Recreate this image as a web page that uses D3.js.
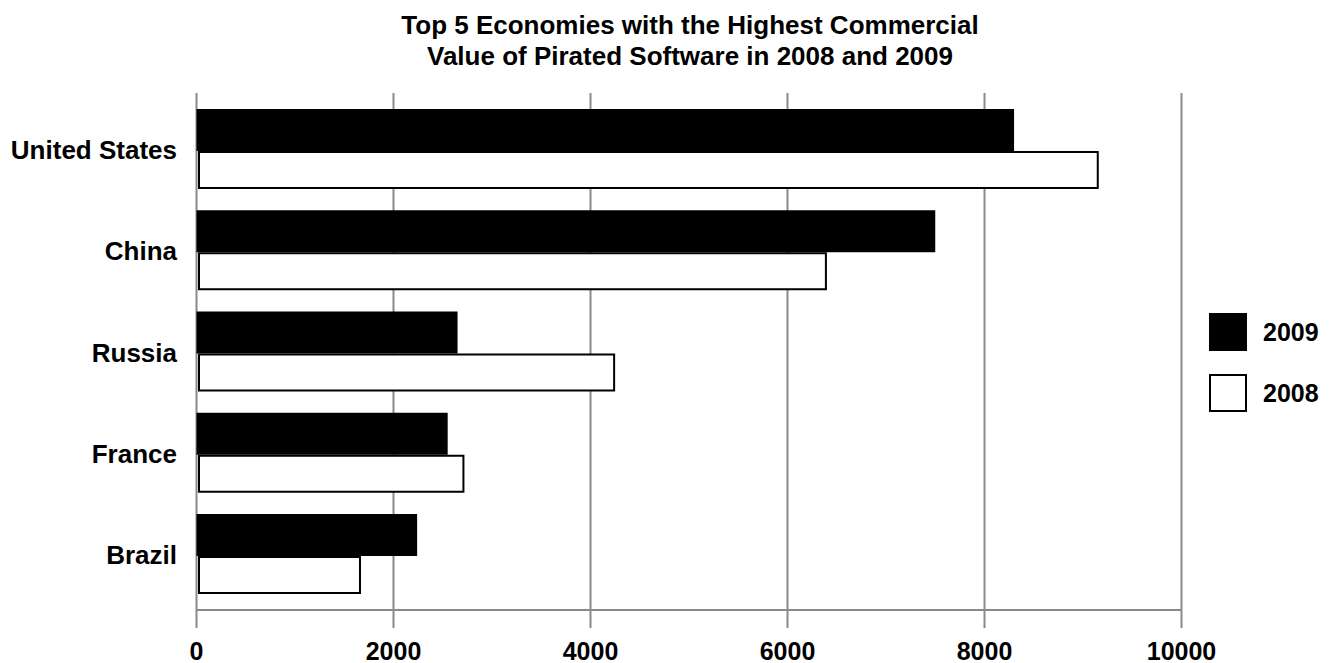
<!DOCTYPE html>
<html>
<head>
<meta charset="utf-8">
<script src="https://cdn.jsdelivr.net/npm/d3@7"></script>
<style>
  body { margin: 0; background: #fff; }
  text { font-family: "Liberation Sans", Arial, sans-serif; font-weight: bold; fill: #000; }
</style>
</head>
<body>
<div id="chart"></div>
<script>
var categories = ["United States", "China", "Russia", "France", "Brazil"];
var values2009 = [8300, 7500, 2650, 2550, 2240];
var values2008 = [9160, 6400, 4250, 2720, 1670];
var xTicks = [0, 2000, 4000, 6000, 8000, 10000];
var titleLines = ["Top 5 Economies with the Highest Commercial", "Value of Pirated Software in 2008 and 2009"];

var width = 1335, height = 663;
var plotTop = 93, plotBottom = 610, plotLeft = 196.5, plotRight = 1181.5;

var svg = d3.select("#chart").append("svg")
    .attr("width", width)
    .attr("height", height);

var xScale = d3.scaleLinear()
    .domain([0, 10000])
    .range([plotLeft, plotRight]);

var yScale = d3.scaleBand()
    .domain(categories)
    .range([plotTop, plotBottom])
    .paddingInner(0.21)
    .paddingOuter(0.158);

var grey = "#8a8a8a";

// gridlines (run past the axis line as ticks)
svg.append("g").selectAll("line")
    .data(xTicks)
    .enter().append("line")
    .attr("x1", function(d) { return xScale(d); })
    .attr("x2", function(d) { return xScale(d); })
    .attr("y1", plotTop)
    .attr("y2", plotBottom + 18)
    .attr("stroke", grey)
    .attr("stroke-width", 2);

svg.append("line")
    .attr("x1", plotLeft).attr("x2", plotRight)
    .attr("y1", plotBottom).attr("y2", plotBottom)
    .attr("stroke", grey)
    .attr("stroke-width", 2);

// tick labels
svg.append("g").selectAll("text")
    .data(xTicks)
    .enter().append("text")
    .attr("x", function(d) { return xScale(d); })
    .attr("y", 660)
    .style("font-size", "25px")
    .style("text-anchor", "middle")
    .text(function(d) { return d; });

var rows = categories.map(function(c, i) {
    return {name: c, v09: values2009[i], v08: values2008[i]};
});

var bw = yScale.bandwidth();
var half = bw / 2;

var g = svg.append("g").selectAll("g")
    .data(rows)
    .enter().append("g");

g.append("rect")
    .attr("x", xScale(0))
    .attr("y", function(d) { return yScale(d.name); })
    .attr("width", function(d) { return xScale(d.v09) - xScale(0); })
    .attr("height", half + 2)
    .attr("fill", "#000");

g.append("rect")
    .attr("x", xScale(0) + 2.5)
    .attr("y", function(d) { return yScale(d.name) + half + 3; })
    .attr("width", function(d) { return xScale(d.v08) - xScale(0) - 3.5; })
    .attr("height", half - 4)
    .attr("fill", "#fff")
    .attr("stroke", "#000")
    .attr("stroke-width", 2);

g.append("text")
    .attr("x", 177)
    .attr("y", function(d) { return yScale(d.name) + half + 10; })
    .style("font-size", "26px")
    .style("text-anchor", "end")
    .text(function(d) { return d.name; });

// title
svg.append("g").selectAll("text")
    .data(titleLines)
    .enter().append("text")
    .attr("x", 690)
    .attr("y", function(d, i) { return 34 + i * 31; })
    .style("font-size", "26px")
    .style("text-anchor", "middle")
    .text(function(d) { return d; });

// legend
var legend = [{label: "2009", fill: "#000"}, {label: "2008", fill: "#fff"}];
var lg = svg.append("g").selectAll("g")
    .data(legend)
    .enter().append("g")
    .attr("transform", function(d, i) { return "translate(1210," + (314 + i * 61) + ")"; });

lg.append("rect")
    .attr("width", 36)
    .attr("height", 36)
    .attr("fill", function(d) { return d.fill; })
    .attr("stroke", "#000")
    .attr("stroke-width", 2);

lg.append("text")
    .attr("x", 53)
    .attr("y", 27)
    .style("font-size", "25px")
    .text(function(d) { return d.label; });
</script>
</body>
</html>
